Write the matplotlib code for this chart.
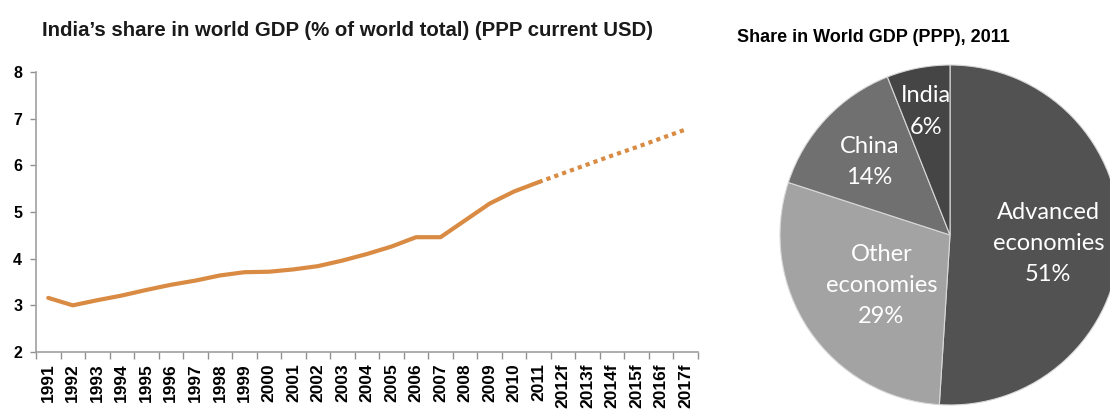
import matplotlib
matplotlib.use("Agg")
import matplotlib.pyplot as plt
import numpy as np

plt.rcParams['font.family'] = ['Liberation Sans', 'DejaVu Sans']

# left chart data: India's share of world GDP (PPP), %
years = ['1991', '1992', '1993', '1994', '1995', '1996', '1997', '1998', '1999',
         '2000', '2001', '2002', '2003', '2004', '2005', '2006', '2007', '2008',
         '2009', '2010', '2011', '2012f', '2013f', '2014f', '2015f', '2016f', '2017f']
share_actual = [3.16, 3.00, 3.11, 3.21, 3.33, 3.44, 3.53, 3.64, 3.71, 3.72, 3.77,
                3.84, 3.96, 4.10, 4.26, 4.46, 4.46, 4.82, 5.18, 5.44, 5.64]
share_forecast = [5.64, 5.83, 6.02, 6.21, 6.39, 6.58, 6.77]  # from 2011 on

# right chart data
pie_labels = ['Advanced\neconomies', 'Other\neconomies', 'China', 'India']
pie_values = [51, 29, 14, 6]
pie_colors = ['#525252', '#a3a3a3', '#707070', '#454545']
label_dist = [0.58, 0.50, 0.64, 0.74]
label_rot = [-3.0, 2.0, 1.0, 0.0]

W, H = 1110, 412
fig = plt.figure(figsize=(W / 100, H / 100), dpi=100)

# ---- line chart
ax = fig.add_axes([36 / W, 1 - 352 / H, (698 - 36) / W, (352 - 72) / H])
orange = '#d98b43'
x_act = np.arange(len(share_actual))
x_fc = np.arange(len(share_actual) - 1, len(years))
ax.plot(x_act, share_actual, color=orange, lw=3.0, solid_capstyle='round')
ax.plot(x_fc, share_forecast, color=orange, lw=3.0, linestyle=(0, (1, 1)))

ax.set_xlim(-0.5, len(years) - 0.5)
ax.set_ylim(2, 8)
ax.set_yticks(range(2, 9))
ax.set_xticks(np.arange(len(years)))
ax.set_xticklabels(years, rotation=90, fontsize=12.5, fontweight='bold',
                   va='top')
ax.set_xticks(np.arange(len(years) + 1) - 0.5, minor=True)
ax.tick_params(axis='x', which='major', length=0, pad=8)
ax.tick_params(axis='x', which='minor', length=5, color='#909090', width=1)
ax.tick_params(axis='y', length=4, color='#909090', width=1, pad=6,
               labelsize=11.5)
for lab in ax.get_yticklabels():
    lab.set_fontweight('bold')
for s in ['top', 'right']:
    ax.spines[s].set_visible(False)
for s in ['left', 'bottom']:
    ax.spines[s].set_color('#a0a0a0')
    ax.spines[s].set_linewidth(1.2)

fig.text(348 / W, 1 - 30 / H,
         "India\u2019s share in world GDP (% of world total) (PPP current USD)",
         ha='center', va='center', fontsize=14.7, fontweight='bold', color='#1a1a1a')

# ---- pie chart
r = 170
cx, cy = 950, 235
pax = fig.add_axes([(cx - r) / W, 1 - (cy + r) / H, 2 * r / W, 2 * r / H])
wedges, _ = pax.pie(pie_values, colors=pie_colors, startangle=90,
                    counterclock=False,
                    wedgeprops=dict(edgecolor='#d8d8d8', linewidth=0.8))
pax.set_xlim(-1, 1)
pax.set_ylim(-1, 1)
pax.set_aspect('equal')
for w, lab, v, d, dr in zip(wedges, pie_labels, pie_values, label_dist, label_rot):
    ang = np.deg2rad((w.theta1 + w.theta2) / 2 + dr)
    pax.text(d * np.cos(ang), d * np.sin(ang), f"{lab}\n{v}%",
             ha='center', va='center', color='white', fontsize=17,
             family=['Lato', 'DejaVu Sans'], linespacing=1.6)

fig.text(737 / W, 1 - 38 / H, "Share in World GDP (PPP), 2011",
         ha='left', va='center', fontsize=13, fontweight='bold')

fig.savefig('out.png', dpi=100)
